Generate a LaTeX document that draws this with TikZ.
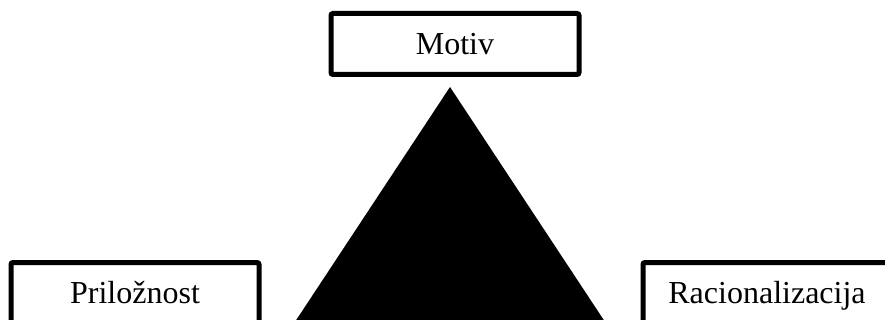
\documentclass[tikz,border=0pt]{standalone}
\usepackage{fontspec}
\setmainfont{Liberation Serif}
\usetikzlibrary{positioning}

\begin{document}
\begin{tikzpicture}[
  x=1pt, y=-1pt,
  factor/.style={draw, line width=5pt, rounded corners=2pt, fill=white,
                 minimum width=248pt, minimum height=61pt, inner sep=0pt,
                 text height=21pt, text depth=0pt,
                 font=\fontsize{32}{38}\selectfont}]
\useasboundingbox (0,0) rectangle (885,320);
\clip (0,0) rectangle (885,320);

% triangle
\coordinate (apex) at (450,87);
\coordinate (baseL) at (287,334);
\coordinate (baseR) at (613,334);
\fill (apex) -- (baseR) -- (baseL) -- cycle;

\node[factor] (motiv) at (455,44) {Motiv};
\node[factor] (prilika) at (135,293) {Priložnost};
\node[factor] (racio) at (767,293) {Racionalizacija};
\end{tikzpicture}
\end{document}
